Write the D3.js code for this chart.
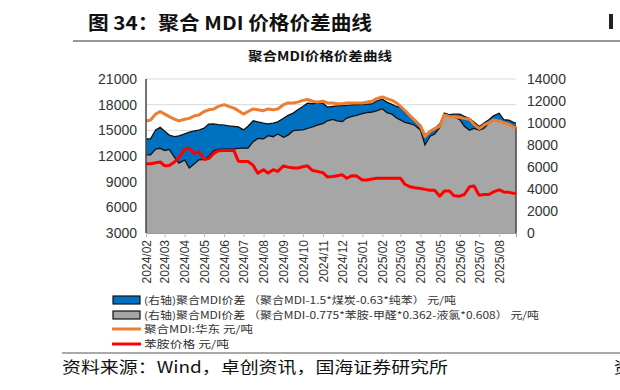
<!DOCTYPE html>
<html><head><meta charset="utf-8">
<script src="https://cdn.jsdelivr.net/npm/d3@7"></script>
<style>body{margin:0;background:#fff}svg{display:block}</style>
</head><body>
<svg id="c" width="620" height="390"></svg>
<script>
const dates = [
"2024-02-01","2024-02-08","2024-02-16","2024-02-23","2024-03-01","2024-03-08","2024-03-16","2024-03-23",
"2024-04-01","2024-04-08","2024-04-16","2024-04-23","2024-05-01","2024-05-08","2024-05-16","2024-05-23",
"2024-06-01","2024-06-08","2024-06-16","2024-06-23","2024-07-01","2024-07-08","2024-07-16","2024-07-23",
"2024-08-01","2024-08-08","2024-08-16","2024-08-23","2024-09-01","2024-09-08","2024-09-16","2024-09-23",
"2024-10-01","2024-10-08","2024-10-16","2024-10-23","2024-11-01","2024-11-08","2024-11-16","2024-11-23",
"2024-12-01","2024-12-08","2024-12-16","2024-12-23","2025-01-01","2025-01-08","2025-01-16","2025-01-23",
"2025-02-01","2025-02-08","2025-02-16","2025-02-23","2025-03-01","2025-03-08","2025-03-16","2025-03-23",
"2025-04-01","2025-04-08","2025-04-16","2025-04-23","2025-05-01","2025-05-08","2025-05-16","2025-05-23",
"2025-06-01","2025-06-08","2025-06-16","2025-06-23","2025-07-01","2025-07-08","2025-07-16","2025-07-23",
"2025-08-01","2025-08-08","2025-08-16","2025-08-23","2025-08-27"];

// (右轴) 聚合MDI价差（聚合MDI-1.5*煤炭-0.63*纯苯）
const blueSpread = [8560,8560,9370,9600, 9250,8900,8770,8830, 9010,9160,9280,9350, 9530,9900,9920,9850,
 9800,9740,9700,9650, 9370,9700,10200,10100, 9980,9920,9980,10100, 10430,10700,10900,11200,
 11500,11800,11750,11800, 11800,11450,11500,11550, 11580,11600,11640,11680, 11700,11720,11730,12000,
 12160,11900,11700,11500, 11400,11000,10600,10300, 9830,8950,9250,9500, 9920,10900,10750,10800,
 10800,10600,10400,10100, 9680,9980,10300,10650, 10890,10300,10250,10050, 9980];

// (右轴) 聚合MDI价差（聚合MDI-0.775*苯胺-甲醛*0.362-液氯*0.608）
const greySpread = [7110,7110,7620,7700, 7500,7600,6900,6350, 6650,5900,6300,6650, 6700,6950,7500,7600,
 7620,7620,7650,7700, 7710,7710,8300,8600, 8550,8850,8750,9000, 8700,8900,9300,9350,
 9370,9500,9650,9800, 9950,10200,10330,10200, 10130,10450,10600,10700, 10850,10950,11000,11100,
 11300,10950,10800,10450, 10280,10050,9950,9800, 9370,8000,8800,9000, 9600,10700,10600,10580,
 10300,9700,9350,9500, 9350,9500,10000,10250, 10250,10000,9920,9750, 9680];

// 聚合MDI:华东 (左轴)
const mdiEast = [16100,16200,16900,17200, 16900,16600,16300,16100, 16300,16400,16700,16800, 17200,17400,17500,17800,
 18000,17800,17600,17300, 16900,17200,17500,17400, 17300,17500,17400,17500, 18000,18200,18200,18300,
 18500,18600,18400,18300, 18400,18200,18200,18100, 18100,18200,18200,18200, 18200,18300,18400,18700,
 18900,18700,18500,18200, 17800,17300,16700,16200, 15500,14300,14900,15200, 15500,16800,16600,16600,
 16500,16400,16300,15700, 15200,15600,15900,16200, 16100,15900,15700,15400, 15300];

// 苯胺价格 (左轴)
const aniline = [11100,11100,11200,11300, 10850,10900,11300,11800, 12800,12900,12300,12500, 11600,11700,12300,12600,
 12650,12650,12650,11400, 11350,11350,10900,10000, 10400,10000,10400,10200, 10850,10700,10600,10600,
 10750,10850,10300,10200, 10050,9550,9600,9700, 9800,9400,9700,9650, 9200,9200,9300,9400,
 9400,9400,9400,9400, 9400,8700,8400,8300, 8200,8100,8000,8000, 7300,7900,7900,7350,
 7300,7500,8400,8500, 7400,7500,7500,7800, 8050,7800,7750,7650, 7600];

const leftTicks = [3000,6000,9000,12000,15000,18000,21000];
const rightTicks = [0,2000,4000,6000,8000,10000,12000,14000];
const monthTicks = ["2024-02-01","2024-03-01","2024-04-01","2024-05-01","2024-06-01","2024-07-01","2024-08-01",
 "2024-09-01","2024-10-01","2024-11-01","2024-12-01","2025-01-01","2025-02-01","2025-03-01","2025-04-01",
 "2025-05-01","2025-06-01","2025-07-01","2025-08-01"];

const legendLabels = [
 "(右轴)聚合MDI价差 （聚合MDI-1.5*煤炭-0.63*纯苯） 元/吨",
 "(右轴)聚合MDI价差 （聚合MDI-0.775*苯胺-甲醛*0.362-液氯*0.608） 元/吨",
 "聚合MDI:华东 元/吨",
 "苯胺价格 元/吨"];

const parse = d3.timeParse("%Y-%m-%d");
const D = dates.map(parse);
const svg = d3.select("#c");
const L = 146, R = 516, T = 79, B = 233;

const x = d3.scaleTime().domain([D[0], D[D.length-1]]).range([L, R]);
const yL = d3.scaleLinear().domain([3000, 21000]).range([B, T]);
const yR = d3.scaleLinear().domain([0, 14000]).range([B, T]);

// header
svg.append("text").attr("x", 88).attr("y", 30).attr("textLength", 284).attr("lengthAdjust","spacingAndGlyphs")
  .style("font-family","'Noto Sans CJK SC'").style("font-weight","bold").style("font-size","19px").attr("fill","#111")
  .text("图 34：聚合 MDI 价格价差曲线");
svg.append("rect").attr("x",609).attr("y",14).attr("width",4).attr("height",15).attr("fill","#222");
svg.append("line").attr("x1",73).attr("x2",620).attr("y1",41).attr("y2",41).attr("stroke","#777").attr("stroke-width",1.5);

// chart title
svg.append("text").attr("x", 320).attr("y", 61).attr("text-anchor","middle").attr("textLength",144).attr("lengthAdjust","spacingAndGlyphs")
  .style("font-family","'Noto Sans CJK SC'").style("font-weight","bold").style("font-size","12.5px").attr("fill","#111")
  .text("聚合MDI价格价差曲线");

// gridlines
svg.append("g").selectAll("line").data(leftTicks.slice(1)).join("line")
  .attr("x1", L).attr("x2", R).attr("y1", d => yL(d)).attr("y2", d => yL(d))
  .attr("stroke", "#d9d9d9").attr("stroke-width", 1);

// areas
const blueArea = d3.area().x((d,i) => x(D[i])).y0(yR(0)).y1(d => yR(d));
const lineR = d3.line().x((d,i) => x(D[i])).y(d => yR(d));
const lineL = d3.line().x((d,i) => x(D[i])).y(d => yL(d));

svg.append("path").datum(blueSpread).attr("d", blueArea).attr("fill", "#0070c0");
svg.append("path").datum(blueSpread).attr("d", lineR).attr("fill","none").attr("stroke","#111").attr("stroke-width",1.3);
svg.append("path").datum(greySpread).attr("d", blueArea).attr("fill", "#a6a6a6");
svg.append("path").datum(greySpread).attr("d", lineR).attr("fill","none").attr("stroke","#111").attr("stroke-width",1.3);
// right edge of areas
svg.append("line").attr("x1", x(D[D.length-1])).attr("x2", x(D[D.length-1]))
  .attr("y1", yR(greySpread[greySpread.length-1])).attr("y2", B).attr("stroke","#444").attr("stroke-width",1.5);

// lines
svg.append("path").datum(mdiEast).attr("d", lineL).attr("fill","none").attr("stroke","#ed7d31").attr("stroke-width",3).attr("stroke-linejoin","round");
svg.append("path").datum(aniline).attr("d", lineL).attr("fill","none").attr("stroke","#ff0000").attr("stroke-width",3).attr("stroke-linejoin","round");

// axes
const axL = svg.append("g").attr("transform", `translate(${L},0)`)
  .call(d3.axisLeft(yL).tickValues(leftTicks).tickSize(0).tickPadding(9).tickFormat(d3.format("d")));
const axR = svg.append("g").attr("transform", `translate(${R},0)`)
  .call(d3.axisRight(yR).tickValues(rightTicks).tickSize(0).tickPadding(11).tickFormat(d3.format("d")));
[axL, axR].forEach(a => {
  a.select(".domain").remove();
  a.selectAll("text").style("font-family","'Liberation Sans', Arial").style("font-size","14px").attr("fill","#333");
});
svg.append("line").attr("x1", L).attr("x2", L).attr("y1", T).attr("y2", B).attr("stroke","#444").attr("stroke-width",1.5);

const axB = svg.append("g").attr("transform", `translate(0,${B})`)
  .call(d3.axisBottom(x).tickValues(monthTicks.map(parse)).tickSize(4).tickFormat(d3.timeFormat("%Y/%m")));
axB.select(".domain").attr("stroke","#999");
axB.selectAll(".tick line").attr("stroke","#bbb");
axB.selectAll("text")
  .style("font-family","'Liberation Sans', Arial").style("font-size","12px").attr("fill","#333")
  .attr("text-anchor","end").attr("dy","0.35em")
  .attr("transform","translate(0,7) rotate(-90)").attr("x",0).attr("y",0);

// legend
const lg = svg.append("g");
const rowsY = [300, 315, 329, 344];
const textLens = [312, 395, 109, 85];
lg.append("rect").attr("x",113).attr("y",rowsY[0]-4).attr("width",27).attr("height",8).attr("fill","#0070c0").attr("stroke","#111").attr("stroke-width",1.2);
lg.append("rect").attr("x",113).attr("y",rowsY[1]-4).attr("width",27).attr("height",8).attr("fill","#a6a6a6").attr("stroke","#111").attr("stroke-width",1.2);
lg.append("line").attr("x1",112).attr("x2",141).attr("y1",rowsY[2]).attr("y2",rowsY[2]).attr("stroke","#ed7d31").attr("stroke-width",3);
lg.append("line").attr("x1",112).attr("x2",141).attr("y1",rowsY[3]).attr("y2",rowsY[3]).attr("stroke","#ff0000").attr("stroke-width",3);
lg.selectAll("text").data(legendLabels).join("text")
  .attr("x",144).attr("y",(d,i) => rowsY[i]).attr("dy","0.36em")
  .attr("textLength",(d,i) => textLens[i]).attr("lengthAdjust","spacingAndGlyphs")
  .style("font-family","'Noto Sans CJK SC'").style("font-size","10px").attr("fill","#333")
  .text(d => d);

// footer
svg.append("line").attr("x1",62).attr("x2",620).attr("y1",353).attr("y2",353).attr("stroke","#555").attr("stroke-width",1.2);
svg.append("text").attr("x",62).attr("y",373).attr("textLength",386).attr("lengthAdjust","spacingAndGlyphs")
  .style("font-family","'Noto Sans CJK SC'").style("font-size","16px").attr("fill","#111")
  .text("资料来源：Wind，卓创资讯，国海证券研究所");
svg.append("text").attr("x",614).attr("y",373)
  .style("font-family","'Noto Sans CJK SC'").style("font-size","16px").attr("fill","#111").text("资");
</script>
</body></html>
